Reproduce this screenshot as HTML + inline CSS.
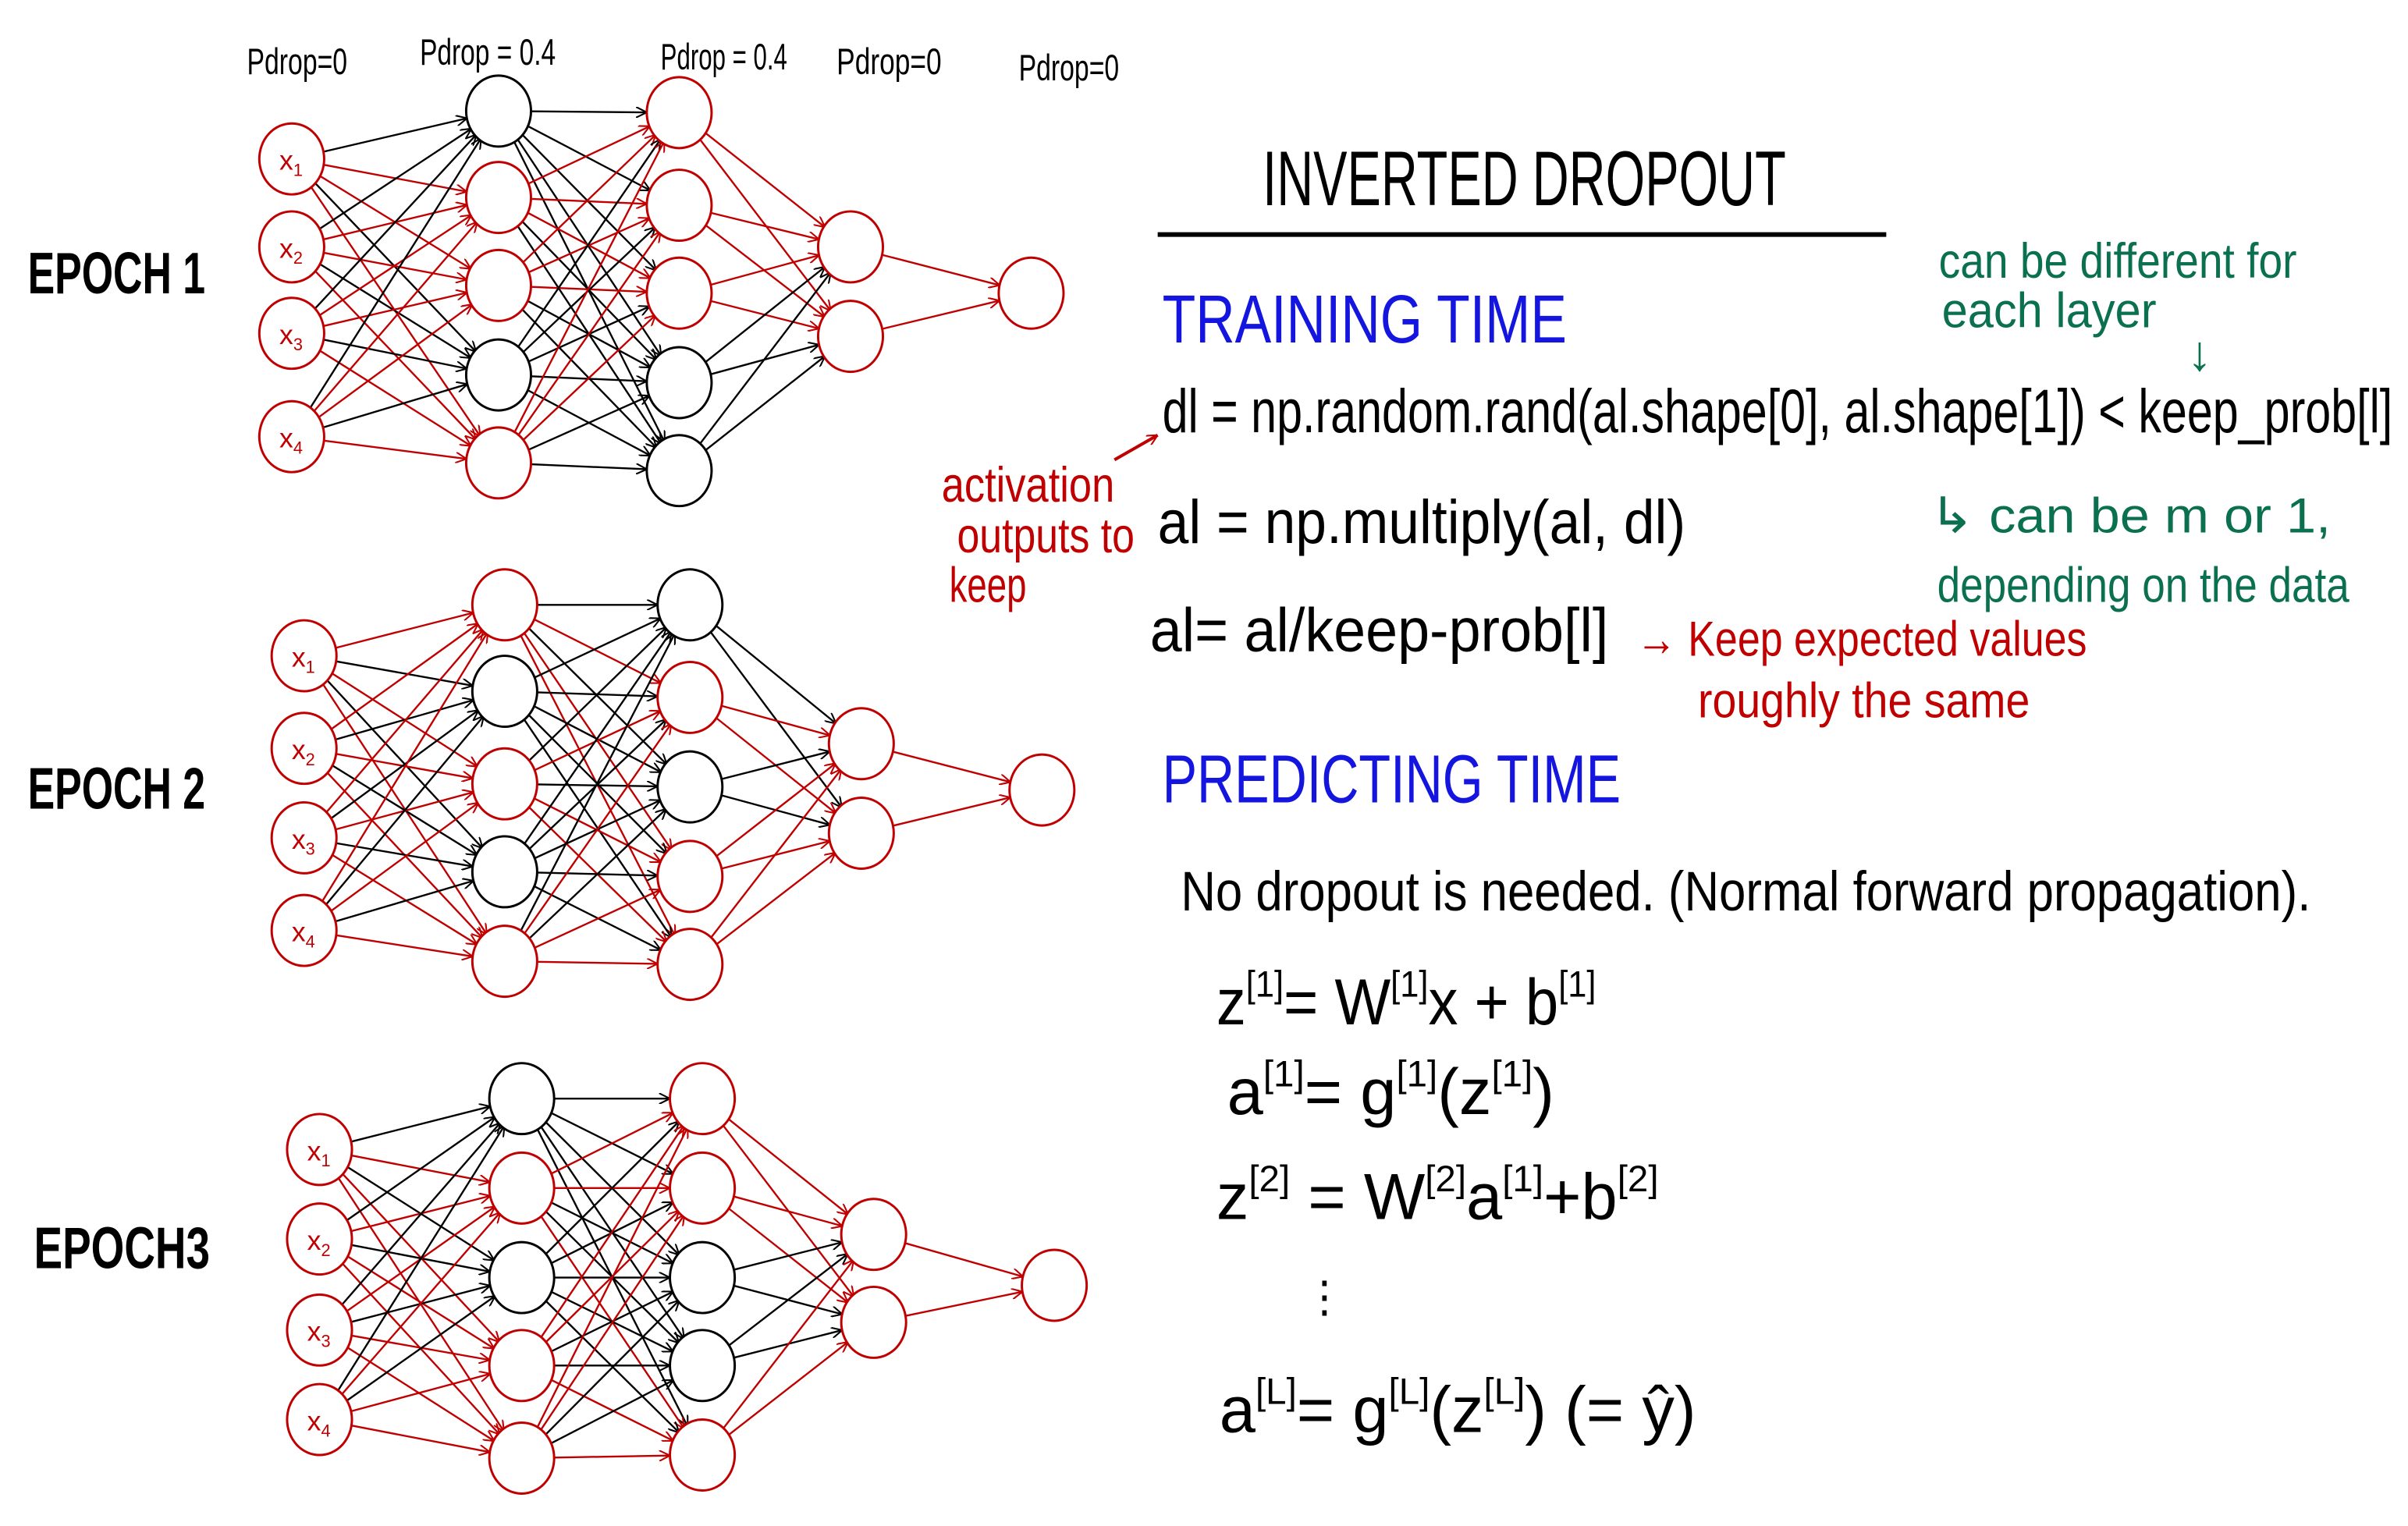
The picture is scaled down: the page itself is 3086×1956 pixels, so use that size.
<!DOCTYPE html>
<html><head><meta charset="utf-8">
<style>
html,body{margin:0;padding:0;background:#fff;}
svg{display:block;}
text{font-family:"Liberation Sans",sans-serif;}
.hw{font-family:"Liberation Sans Narrow","Liberation Sans",sans-serif;}
</style></head>
<body>
<svg id="fig" width="3086" height="1956" viewBox="0 0 1560 989" preserveAspectRatio="none" xmlns="http://www.w3.org/2000/svg">
<defs>
<marker id="ar" viewBox="0 0 10 10" refX="10" refY="5" markerWidth="7" markerHeight="7" orient="auto-start-reverse" markerUnits="userSpaceOnUse"><path d="M0,0 L10,5 L0,10" fill="none" stroke="#c00000" stroke-width="1.5"/></marker>
<marker id="ak" viewBox="0 0 10 10" refX="10" refY="5" markerWidth="7" markerHeight="7" orient="auto-start-reverse" markerUnits="userSpaceOnUse"><path d="M0,0 L10,5 L0,10" fill="none" stroke="#000" stroke-width="1.5"/></marker>
</defs>
<g id="nets"></g>

<g font-size="24" class="hw">
<text x="160" y="48" textLength="65" lengthAdjust="spacingAndGlyphs">Pdrop=0</text>
<text x="272" y="42" textLength="88" lengthAdjust="spacingAndGlyphs">Pdrop = 0.4</text>
<text x="428" y="45" textLength="82" lengthAdjust="spacingAndGlyphs">Pdrop = 0.4</text>
<text x="542" y="48" textLength="68" lengthAdjust="spacingAndGlyphs">Pdrop=0</text>
<text x="660" y="52" textLength="65" lengthAdjust="spacingAndGlyphs">Pdrop=0</text>
</g>
<g font-size="38" font-weight="bold">
<text x="18" y="190" textLength="115" lengthAdjust="spacingAndGlyphs">EPOCH 1</text>
<text x="18" y="524" textLength="115" lengthAdjust="spacingAndGlyphs">EPOCH 2</text>
<text x="22" y="822" textLength="114" lengthAdjust="spacingAndGlyphs">EPOCH3</text>
</g>

<text x="818" y="133" font-size="50" textLength="339" lengthAdjust="spacingAndGlyphs">INVERTED  DROPOUT</text>
<line x1="750" y1="152" x2="1222" y2="152" stroke="#000" stroke-width="3"/>

<text x="753" y="222" font-size="44" fill="#1515e0" textLength="262" lengthAdjust="spacingAndGlyphs">TRAINING  TIME</text>
<g font-size="40">
<text x="753" y="280" textLength="797" lengthAdjust="spacingAndGlyphs">dl = np.random.rand(al.shape[0], al.shape[1]) &lt; keep_prob[l]</text>
<text x="750" y="352" textLength="342" lengthAdjust="spacingAndGlyphs">al =  np.multiply(al, dl)</text>
<text x="745" y="422" textLength="297" lengthAdjust="spacingAndGlyphs">al=  al/keep-prob[l]</text>
</g>
<g fill="#c00000" font-size="32">
<text x="1060" y="425" textLength="292" lengthAdjust="spacingAndGlyphs">→ Keep expected values</text>
<text x="1100" y="465" textLength="215" lengthAdjust="spacingAndGlyphs">roughly the same</text>
<text x="610" y="325" textLength="112" lengthAdjust="spacingAndGlyphs">activation</text>
<text x="620" y="358" textLength="115" lengthAdjust="spacingAndGlyphs">outputs to</text>
<text x="615" y="390" textLength="50" lengthAdjust="spacingAndGlyphs">keep</text>
</g>
<line x1="722" y1="298" x2="750" y2="282" stroke="#c00000" stroke-width="2" marker-end="url(#ar)"/>
<g fill="#0b7050" font-size="32">
<text x="1256" y="180" textLength="232" lengthAdjust="spacingAndGlyphs">can be different for</text>
<text x="1258" y="212" textLength="139" lengthAdjust="spacingAndGlyphs">each layer</text>
<text x="1417" y="240">↓</text>
<text x="1250" y="345" textLength="260" lengthAdjust="spacingAndGlyphs">↳ can be m or 1,</text>
<text x="1255" y="390" textLength="267" lengthAdjust="spacingAndGlyphs">depending on the data</text>
</g>

<text x="753" y="520" font-size="44" fill="#1515e0" textLength="297" lengthAdjust="spacingAndGlyphs">PREDICTING  TIME</text>
<text x="765" y="590" font-size="36" textLength="732" lengthAdjust="spacingAndGlyphs">No dropout is needed. (Normal forward propagation).</text>
<g font-size="42">
<text x="788" y="664" textLength="246" lengthAdjust="spacingAndGlyphs">z<tspan dy="-18" font-size="24">[1]</tspan><tspan dy="18">= W</tspan><tspan dy="-18" font-size="24">[1]</tspan><tspan dy="18">x + b</tspan><tspan dy="-18" font-size="24">[1]</tspan></text>
<text x="795" y="722">a<tspan dy="-18" font-size="24">[1]</tspan><tspan dy="18">= g</tspan><tspan dy="-18" font-size="24">[1]</tspan><tspan dy="18">(z</tspan><tspan dy="-18" font-size="24">[1]</tspan><tspan dy="18">)</tspan></text>
<text x="788" y="790">z<tspan dy="-18" font-size="24">[2]</tspan><tspan dy="18"> = W</tspan><tspan dy="-18" font-size="24">[2]</tspan><tspan dy="18">a</tspan><tspan dy="-18" font-size="24">[1]</tspan><tspan dy="18">+b</tspan><tspan dy="-18" font-size="24">[2]</tspan></text>
<text x="844" y="850" font-size="28">⋮</text>
<text x="790" y="928">a<tspan dy="-18" font-size="24">[L]</tspan><tspan dy="18">= g</tspan><tspan dy="-18" font-size="24">[L]</tspan><tspan dy="18">(z</tspan><tspan dy="-18" font-size="24">[L]</tspan><tspan dy="18">)   (= ŷ)</tspan></text>
</g>
</svg>
<script>
// Network layouts: per epoch, layer x, node y's, and kept flags (1 = kept/red, 0 = dropped/black)
const epochNames = ['epoch-1','epoch-2','epoch-3'];
const layerX = [[189,323,440,551,668],[197,327,447,558,675],[207,338,455,566,683]];
const layerY = [
  [[103,160,216,283],[72,128,185,243,300],[73,133,190,248,305],[160,218],[190]],
  [[425,485,543,603],[392,448,508,565,623],[392,452,510,568,625],[482,540],[512]],
  [[745,803,862,920],[712,770,828,885,945],[712,770,828,885,943],[800,857],[833]]
];
const kept = [
  [[1,1,1,1],[0,1,1,0,1],[1,1,1,0,0],[1,1],[1]],
  [[1,1,1,1],[1,0,1,0,1],[0,1,0,1,1],[1,1],[1]],
  [[1,1,1,1],[0,1,0,1,1],[1,1,0,0,1],[1,1],[1]]
];
const RED='#c00000', RX=21, RY=23;
const NS='http://www.w3.org/2000/svg';
const g=document.getElementById('nets');
epochNames.forEach((nm,e)=>{
  const ge=document.createElementNS(NS,'g');
  
  
  g.appendChild(ge);
  const L=layerY[e];
  for(let l=0;l<L.length-1;l++){
    L[l].forEach((y1,i)=>{L[l+1].forEach((y2,j)=>{
      const x1=layerX[e][l], x2=layerX[e][l+1];
      const dx=x2-x1, dy=y2-y1, d=Math.hypot(dx,dy);
      const red=kept[e][l][i]&&kept[e][l+1][j];
      const ln=document.createElementNS(NS,'line');
      
      
      ln.setAttribute('x1',x1+dx/d*RX); ln.setAttribute('y1',y1+dy/d*RY*0.9);
      ln.setAttribute('x2',x2-dx/d*RX); ln.setAttribute('y2',y2-dy/d*RY*0.9);
      ln.setAttribute('stroke',red?RED:'#000');
      ln.setAttribute('stroke-width','1.2');
      ln.setAttribute('marker-end',red?'url(#ar)':'url(#ak)');
      ge.appendChild(ln);
    });});
  }
  L.forEach((ys,l)=>ys.forEach((y,i)=>{
    const c=document.createElementNS(NS,'ellipse');
    
    
    c.setAttribute('cx',layerX[e][l]); c.setAttribute('cy',y);
    c.setAttribute('rx',RX); c.setAttribute('ry',RY);
    c.setAttribute('fill','#fff');
    c.setAttribute('stroke',kept[e][l][i]?RED:'#000');
    c.setAttribute('stroke-width','1.5');
    ge.appendChild(c);
    if(l===0){
      const t=document.createElementNS(NS,'text');
      
      
      t.setAttribute('x',layerX[e][l]-8); t.setAttribute('y',y+7);
      t.setAttribute('fill',RED); t.setAttribute('font-size','18');
      t.textContent='x';
      const s=document.createElementNS(NS,'tspan');
      s.setAttribute('font-size','11'); s.setAttribute('dy','4');
      s.textContent=String(i+1);
      t.appendChild(s);
      ge.appendChild(t);
    }
  }));
});
</script>
</body></html>
